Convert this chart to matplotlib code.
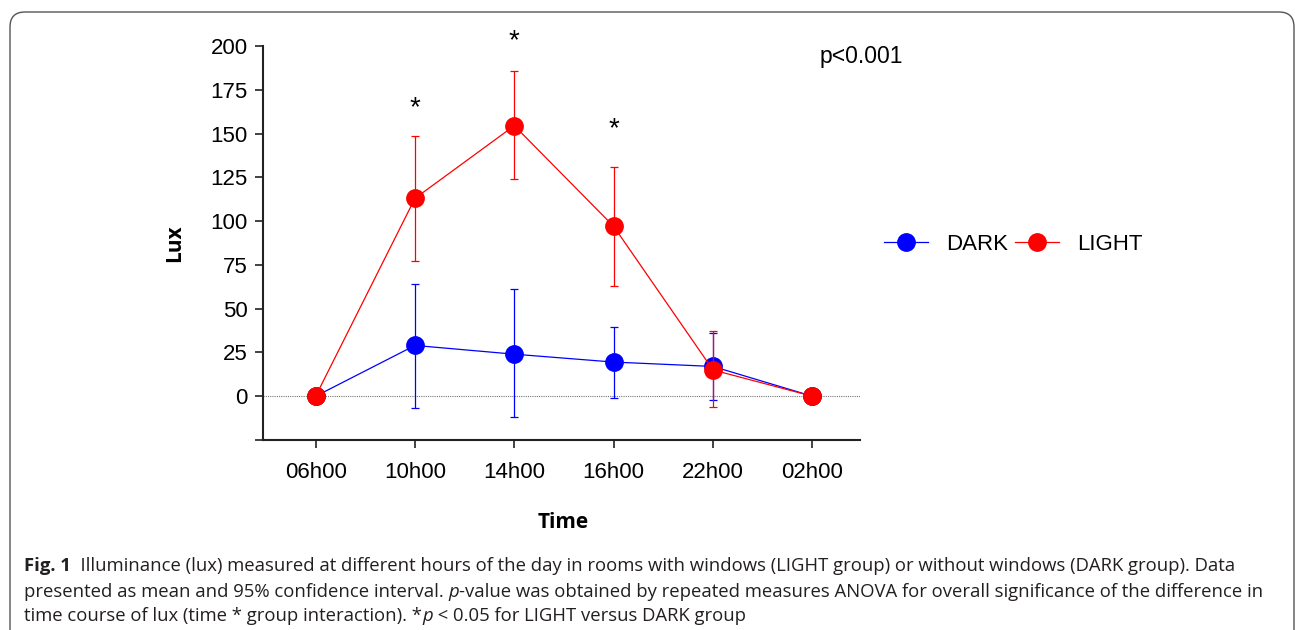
import matplotlib
matplotlib.use("Agg")
import matplotlib.pyplot as plt
import matplotlib.patches as mp
from matplotlib.lines import Line2D
import numpy as np

times = ["06h00", "10h00", "14h00", "16h00", "22h00", "02h00"]

dark_mean = [0, 29, 24, 19.5, 17, 0]
dark_lo = [0, -7, -12, -1, -2, 0]
dark_hi = [0, 64, 61.5, 39.5, 36, 0]

light_mean = [0, 113, 154.5, 97, 15, 0]
light_lo = [0, 77, 124, 63, -6, 0]
light_hi = [0, 148.5, 186, 131, 37, 0]

star_idx = [1, 2, 3]
star_y = [164.5, 202.5, 152.5]

plt.rcParams["font.family"] = ["Liberation Sans", "DejaVu Sans"]

fig = plt.figure(figsize=(12.95, 6.3), dpi=100)
ax = fig.add_axes([263 / 1295, 1 - 440 / 630, (860 - 263) / 1295, (440 - 46) / 630])

x = np.arange(len(times))


def err(mean, lo, hi):
    m = np.array(mean)
    return [m - np.array(lo), np.array(hi) - m]


ax.axhline(0, color="#777777", lw=0.8, ls=(0, (1, 1)), zorder=1)

ax.errorbar(x, dark_mean, yerr=err(dark_mean, dark_lo, dark_hi), color="#0000ff",
            lw=0.9, elinewidth=0.9, capsize=3, capthick=0.9, marker="o",
            markersize=12.5, zorder=3)
ax.errorbar(x, light_mean, yerr=err(light_mean, light_lo, light_hi), color="#ff0000",
            lw=0.9, elinewidth=0.9, capsize=3, capthick=0.9, marker="o",
            markersize=12.5, zorder=4)

for i, yv in zip(star_idx, star_y):
    ax.text(x[i], yv, "*", ha="center", va="center", fontsize=20, clip_on=False)

ax.text(5.07, 194, "p<0.001", ha="left", va="center", fontsize=16.5)

ax.set_xlim(-0.53, 5.48)
ax.set_ylim(-25, 200)
ax.set_yticks([-25, 0, 25, 50, 75, 100, 125, 150, 175, 200])
ax.set_yticklabels(["", "0", "25", "50", "75", "100", "125", "150", "175", "200"])
ax.set_xticks(x)
ax.set_xticklabels(times)
ax.tick_params(axis="both", labelsize=16, width=1.2, length=6, color="#222222")
ax.tick_params(axis="x", pad=10)
ax.tick_params(axis="y", pad=5)
for s in ["top", "right"]:
    ax.spines[s].set_visible(False)
for s in ["left", "bottom"]:
    ax.spines[s].set_linewidth(1.5)
    ax.spines[s].set_color("#222222")

fig.text(175 / 1295, 1 - 243 / 630, "Lux", rotation=90, ha="center", va="center",
         fontsize=15, fontweight="bold", family=["Open Sans", "DejaVu Sans"])
fig.text(563 / 1295, 1 - 523 / 630, "Time", ha="center", va="center",
         fontsize=15, fontweight="bold", family=["Open Sans", "DejaVu Sans"])

handles = [Line2D([], [], color="#0000ff", lw=0.9, marker="o", markersize=12.5),
           Line2D([], [], color="#ff0000", lw=0.9, marker="o", markersize=12.5)]
fig.legend(handles, ["DARK", "LIGHT"], loc="center left",
           bbox_to_anchor=(875 / 1295, 1 - 244 / 630), ncol=2,
           frameon=False, fontsize=16, handlelength=2.0, handletextpad=0.8,
           columnspacing=0.3, borderaxespad=0)

# caption
cap = dict(fontsize=13.3, family=["Open Sans", "DejaVu Sans"], color="#231f20")
t1 = fig.text(24 / 1295, 1 - 571 / 630, "Fig. 1", fontweight="bold", va="baseline", **cap)
plt.annotate("  Illuminance (lux) measured at different hours of the day in rooms with windows "
             "(LIGHT group) or without windows (DARK group). Data",
             xy=(1, 0), xycoords=t1, annotation_clip=False, va="bottom", **cap)
t2 = fig.text(24 / 1295, 1 - 597 / 630, "presented as mean and 95% confidence interval. ",
              va="baseline", **cap)
t2b = plt.annotate("p", xy=(1, 0), xycoords=t2, annotation_clip=False, style="italic",
                   va="bottom", **cap)
plt.annotate("-value was obtained by repeated measures ANOVA for overall significance of the "
             "difference in", xy=(1, 0), xycoords=t2b, annotation_clip=False,
             va="bottom", **cap)
t3 = fig.text(24 / 1295, 1 - 621 / 630, "time course of lux (time * group interaction). *",
              va="baseline", **cap)
t3b = plt.annotate("p", xy=(1, 0), xycoords=t3, annotation_clip=False, style="italic",
                   va="bottom", **cap)
plt.annotate(" < 0.05 for LIGHT versus DARK group", xy=(1, 0), xycoords=t3b,
             annotation_clip=False, va="bottom", **cap)

box = mp.FancyBboxPatch((0.10, -0.5), 12.84, 6.68, boxstyle="round,pad=0,rounding_size=0.15",
                        transform=fig.dpi_scale_trans, fill=False, edgecolor="#555555",
                        lw=1.0, clip_on=False)
fig.patches.append(box)

fig.savefig("out.png", dpi=100)
